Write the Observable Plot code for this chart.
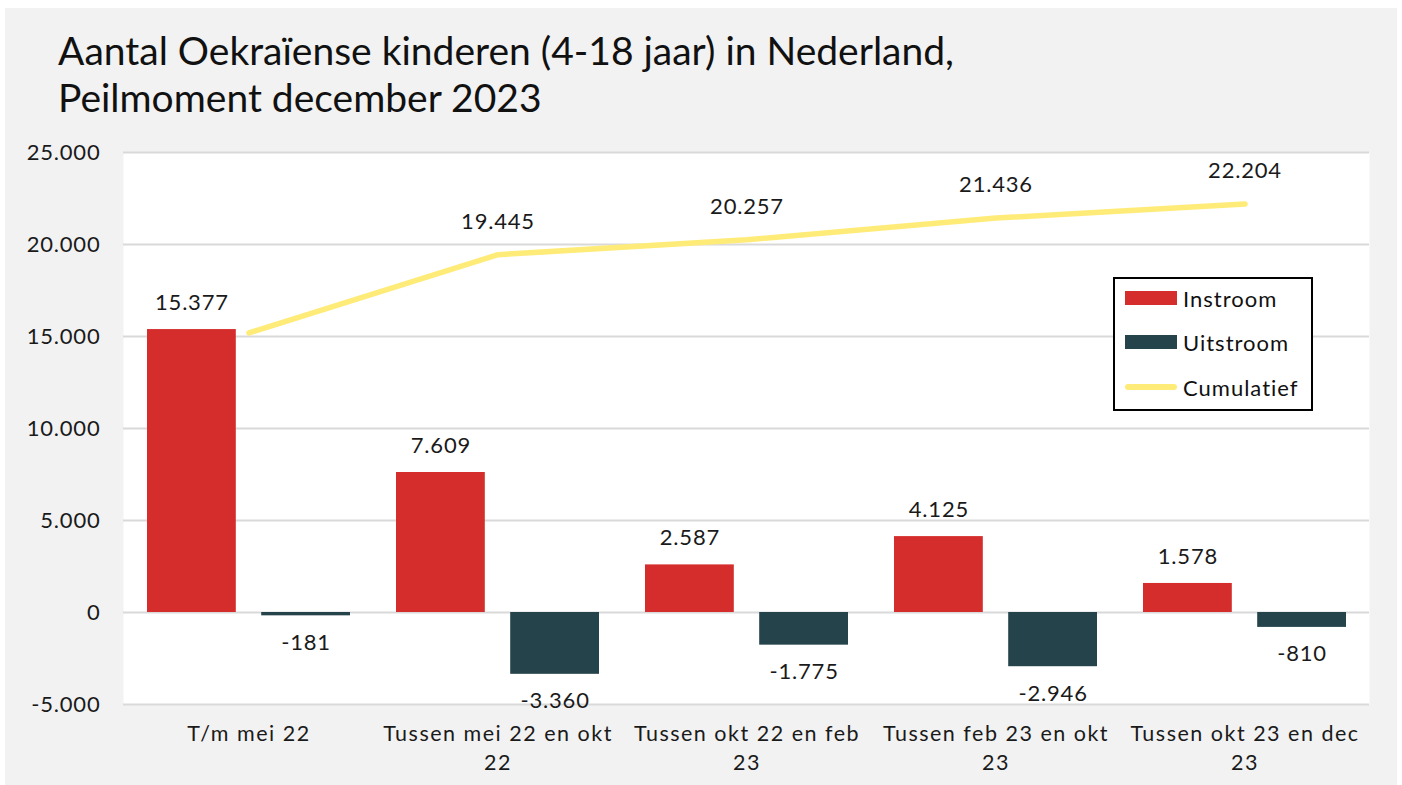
<!DOCTYPE html>
<html><head><meta charset="utf-8">
<script src="https://cdn.jsdelivr.net/npm/d3@7"></script>
<script src="https://cdn.jsdelivr.net/npm/@observablehq/plot@0.6"></script>
<style>
body{margin:0;background:#fff;font-family:Lato,sans-serif;}
#wrap{position:absolute;left:5px;top:8px;width:1392px;height:777px;background:#f2f2f2;overflow:hidden}
#chart{position:absolute;left:0;top:0}
#chart svg text{letter-spacing:0.8px}
#chart svg g[aria-label="x-axis tick label"] text{letter-spacing:1.5px}
#title{position:absolute;left:53px;top:19px;font-size:39px;font-weight:400;letter-spacing:0px;line-height:47px;color:#111;white-space:nowrap}
#legend{position:absolute;left:1108px;top:269px;width:196px;height:130px;border:2px solid #000;background:#fff;font-size:22px;letter-spacing:1px;color:#111}
.row{position:absolute;left:10px;height:30px;display:flex;align-items:center}
.sw{width:52px;height:14px;margin-right:6px}
.ln{width:52px;height:6px;border-radius:3px;margin-right:6px}
</style>
</head><body>
<div id="wrap">
  <div id="chart"></div>
  <div id="title">Aantal Oekraïense kinderen (4-18 jaar) in Nederland,<br>Peilmoment december 2023</div>
  <div id="legend"></div>
</div>
<script>
const categories = ["T/m mei 22","Tussen mei 22 en okt 22","Tussen okt 22 en feb 23","Tussen feb 23 en okt 23","Tussen okt 23 en dec 23"];
const tickLabels = ["T/m mei 22","Tussen mei 22 en okt\n22","Tussen okt 22 en feb\n23","Tussen feb 23 en okt\n23","Tussen okt 23 en dec\n23"];
const instroom = [15377, 7609, 2587, 4125, 1578];
const uitstroom = [-181, -3360, -1775, -2946, -810];
const cumulatief = [15196, 19445, 20257, 21436, 22204];
const yTicks = [-5000, 0, 5000, 10000, 15000, 20000, 25000];
const seriesNames = ["Instroom", "Uitstroom", "Cumulatief"];
const colors = {Instroom: "#d42d2c", Uitstroom: "#25434a", Cumulatief: "#ffeb78"};

const fmt = d3.formatLocale({decimal: ",", thousands: ".", grouping: [3], currency: ["€", ""], minus: "-"}).format(",");
const rows = categories.map((c, i) => ({cat: c, instroom: instroom[i], uitstroom: uitstroom[i], cum: cumulatief[i], i}));

const W = 1392, H = 777, mL = 118, mR = 28, mT = 144, mB = 81;
const band = (W - mL - mR) / categories.length;
const outer = 23, bw = 89;
const inner = band - outer - bw;
const off = band / 2 - outer - bw / 2;

const chart = Plot.plot({
  width: W, height: H,
  marginLeft: mL, marginRight: mR, marginTop: mT, marginBottom: mB,
  style: {fontFamily: "Lato, sans-serif", fontSize: "22px", background: "transparent", color: "#1a1a1a"},
  x: {domain: categories, padding: 0, label: null},
  y: {domain: [-5000, 25000], label: null},
  marks: [
    Plot.frame({fill: "white", stroke: null}),
    Plot.ruleY(yTicks, {stroke: "#d9d9d9", strokeWidth: 2}),
    Plot.barY(rows, {x: "cat", y: "instroom", fill: colors.Instroom, insetLeft: outer, insetRight: inner}),
    Plot.barY(rows, {x: "cat", y: "uitstroom", fill: colors.Uitstroom, insetLeft: inner, insetRight: outer}),
    Plot.line(rows, {x: "cat", y: "cum", stroke: colors.Cumulatief, strokeWidth: 5.5, strokeLinecap: "round", strokeLinejoin: "round"}),
    Plot.text(rows, {x: "cat", y: "instroom", text: d => fmt(d.instroom), dx: -off, dy: -27, fontSize: 22, fill: "#1a1a1a"}),
    Plot.text(rows, {x: "cat", y: "uitstroom", text: d => fmt(d.uitstroom), dx: off, dy: 27, fontSize: 22, fill: "#1a1a1a"}),
    Plot.text(rows.filter(d => d.i > 0), {x: "cat", y: "cum", text: d => fmt(d.cum), dy: -33, fontSize: 22, fill: "#1a1a1a"}),
    Plot.axisY({ticks: yTicks, tickSize: 0, tickPadding: 23, tickFormat: fmt, fontSize: 22, fill: "#1a1a1a", label: null}),
    Plot.axisX({tickSize: 0, tickPadding: 16, tickFormat: d => tickLabels[categories.indexOf(d)], fontSize: 21.5, lineHeight: 1.35, fill: "#1a1a1a", label: null})
  ]
});
document.getElementById("chart").appendChild(chart);

const leg = document.getElementById("legend");
const tops = [4, 48, 93];
seriesNames.forEach((n, k) => {
  const r = document.createElement("div");
  r.className = "row";
  r.style.top = tops[k] + "px";
  const s = document.createElement("div");
  s.className = n === "Cumulatief" ? "ln" : "sw";
  s.style.background = colors[n];
  const t = document.createElement("span");
  t.textContent = n;
  r.appendChild(s); r.appendChild(t);
  leg.appendChild(r);
});
</script>
</body></html>
